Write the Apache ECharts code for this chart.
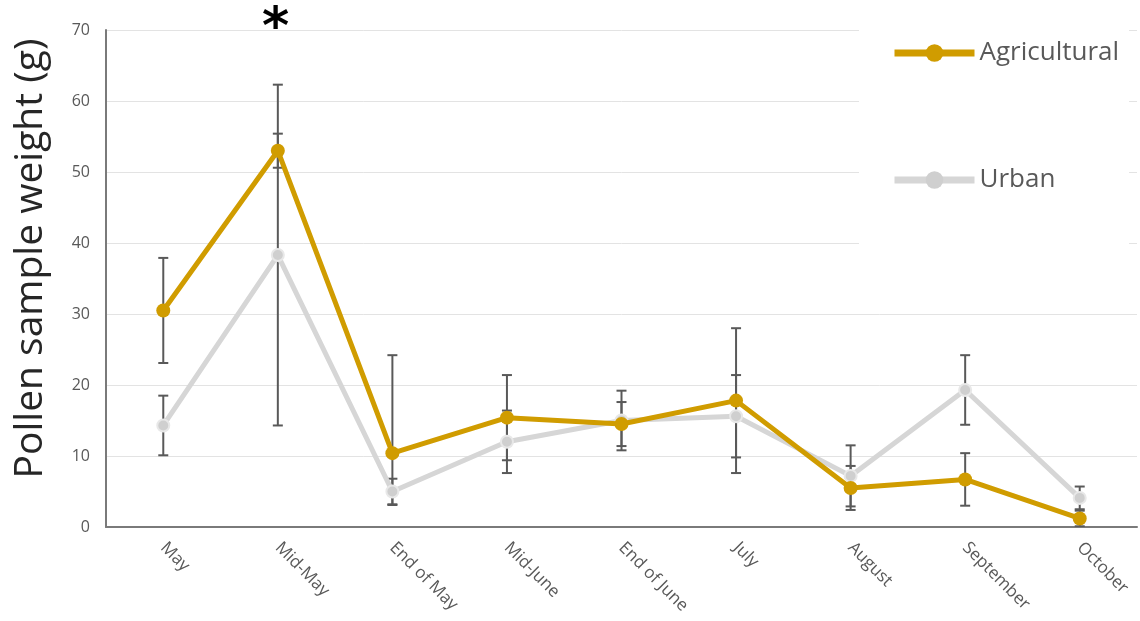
<!DOCTYPE html>
<html>
<head>
<meta charset="utf-8">
<title>Pollen sample weight</title>
<script src="https://cdn.jsdelivr.net/npm/echarts@6/dist/echarts.min.js"></script>
<style>
  html, body { margin: 0; padding: 0; background: #fff; }
  #main { width: 1140px; height: 621px; }
</style>
</head>
<body>
<div id="main"></div>
<script>
// categories and values
var categories = ['May', 'Mid-May', 'End of May', 'Mid-June', 'End of June', 'July', 'August', 'September', 'October'];
var agricultural = [30.5, 53.0, 10.4, 15.4, 14.5, 17.8, 5.5, 6.7, 1.2];
var urban = [14.3, 38.3, 5.0, 12.0, 15.0, 15.6, 7.2, 19.3, 4.1];
// error bar extents (minus / plus) for each point
var errAgriMinus = [7.4, 2.4, 7.3, 6.0, 3.1, 10.2, 3.1, 3.7, 1.1];
var errAgriPlus = [7.4, 2.4, 13.8, 6.0, 3.1, 10.2, 3.1, 3.7, 1.1];
var errUrbanMinus = [4.2, 24.0, 1.8, 4.4, 4.2, 5.8, 4.3, 4.9, 1.6];
var errUrbanPlus = [4.2, 24.0, 1.8, 4.4, 4.2, 5.8, 4.3, 4.9, 1.6];
var yTicks = [0, 10, 20, 30, 40, 50, 60, 70];

var GOLD = '#D09C00';
var GREY = '#D6D6D6';

function errData(vals, minus, plus) {
    return vals.map(function (v, i) {
        return [i, v - minus[i], v + plus[i]];
    });
}

function renderErr(params, api) {
    var lo = api.coord([api.value(0), api.value(1)]);
    var hi = api.coord([api.value(0), api.value(2)]);
    var half = 5;
    var st = { stroke: '#595959', lineWidth: 2 };
    return {
        type: 'group',
        children: [
            { type: 'line', shape: { x1: lo[0], y1: lo[1], x2: hi[0], y2: hi[1] }, style: st },
            { type: 'line', shape: { x1: hi[0] - half, y1: hi[1], x2: hi[0] + half, y2: hi[1] }, style: st },
            { type: 'line', shape: { x1: lo[0] - half, y1: lo[1], x2: lo[0] + half, y2: lo[1] }, style: st }
        ]
    };
}

var myChart = echarts.init(document.getElementById('main'));
var option = {
    backgroundColor: '#fff',
    animation: false,
    textStyle: { fontFamily: 'Open Sans' },
    grid: { left: 106, right: 3, top: 30, bottom: 94, containLabel: false },
    legend: {
        orient: 'vertical',
        left: 859,
        top: 30,
        padding: [8, 10, 50, 32],
        backgroundColor: '#fff',
        z: 10,
        itemWidth: 80,
        itemHeight: 22,
        itemGap: 97,
        lineStyle: { width: 7 },
        itemStyle: { borderWidth: 0 },
        textStyle: { fontSize: 26, color: '#595959', lineHeight: 30, fontFamily: 'Open Sans' },
        data: ['Agricultural', 'Urban']
    },
    xAxis: {
        type: 'category',
        data: categories,
        boundaryGap: true,
        axisLine: { lineStyle: { color: '#7a7a7a', width: 2 } },
        axisTick: { show: false },
        axisLabel: { rotate: -45, fontSize: 17, color: '#595959', margin: 18, interval: 0 }
    },
    yAxis: {
        type: 'value',
        min: yTicks[0],
        max: yTicks[yTicks.length - 1],
        interval: 10,
        name: 'Pollen sample weight (g)',
        nameLocation: 'middle',
        nameGap: 56,
        nameTextStyle: { fontSize: 39, color: '#262626', padding: [0, 0, 0, 40] },
        axisLine: { show: true, lineStyle: { color: '#7a7a7a', width: 2 } },
        axisTick: { show: false },
        axisLabel: { fontSize: 16, color: '#595959', margin: 16 },
        splitLine: { lineStyle: { color: '#e3e3e3', width: 1 } }
    },
    series: [
        {
            name: 'errAgri',
            type: 'custom',
            renderItem: renderErr,
            data: errData(agricultural, errAgriMinus, errAgriPlus),
            encode: { x: 0, y: [1, 2] },
            clip: true,
            z: 1
        },
        {
            name: 'errUrban',
            type: 'custom',
            renderItem: renderErr,
            data: errData(urban, errUrbanMinus, errUrbanPlus),
            encode: { x: 0, y: [1, 2] },
            clip: true,
            z: 1
        },
        {
            name: 'Urban',
            type: 'line',
            data: urban,
            symbol: 'circle',
            symbolSize: 12,
            color: GREY,
            lineStyle: { color: GREY, width: 5 },
            itemStyle: { color: '#cfcfcf', borderColor: '#e8e8e8', borderWidth: 2 },
            z: 3
        },
        {
            name: 'Agricultural',
            type: 'line',
            data: agricultural,
            symbol: 'circle',
            symbolSize: 14,
            color: GOLD,
            lineStyle: { color: GOLD, width: 5 },
            itemStyle: { color: GOLD },
            z: 4
        }
    ],
    graphic: [
        {
            type: 'text',
            left: 262,
            top: 3,
            z: 20,
            style: { text: '*', font: 'bold 52px "DejaVu Sans"', fill: '#000' }
        }
    ]
};
myChart.setOption(option);
</script>
</body>
</html>
